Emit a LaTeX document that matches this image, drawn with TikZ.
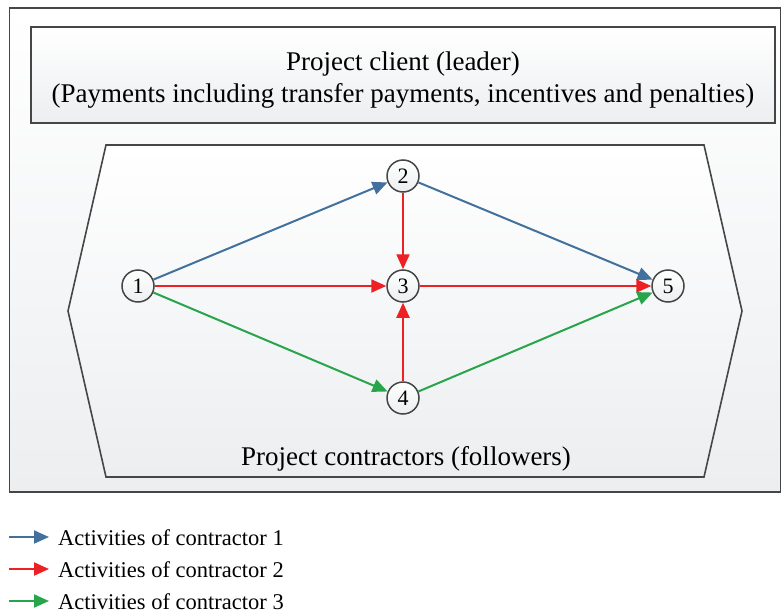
\documentclass[tikz,border=0pt]{standalone}
\usepackage{fontspec}
\setmainfont{Liberation Serif}
\usetikzlibrary{arrows.meta,shadings}
\definecolor{cblue}{RGB}{65,113,156}
\definecolor{cred}{RGB}{237,32,36}
\definecolor{cgreen}{RGB}{40,165,75}
\definecolor{frame}{RGB}{70,70,70}
\definecolor{shadebot}{RGB}{236,238,240}
\tikzset{
  x=1pt,y=1pt,
  frameline/.style={draw=frame,line width=1.6pt},
  evnode/.style={circle,minimum size=32pt,inner sep=0pt,draw=frame,line width=1.5pt,
    top color=white,bottom color=shadebot,font=\fontsize{22}{22}\selectfont},
  act/.style={line width=2pt,-{Triangle[length=15pt,width=13pt]}},
  big/.style={font=\fontsize{27}{31.5}\selectfont},
  leg/.style={font=\fontsize{22.5}{24}\selectfont,anchor=base west,inner sep=0pt},
}
\begin{document}
\begin{tikzpicture}
\useasboundingbox (0,0) rectangle (782,-613);
% outer box
\shade[top color=white,bottom color=shadebot] (9.5,-8) rectangle (780.5,-492);
\draw[frameline] (9.5,-8) rectangle (780.5,-492);
% top box
\shade[top color=white,bottom color=shadebot] (31,-27) rectangle (775,-123);
\draw[frameline] (31,-27) rectangle (775,-123);
\node[big,align=center] (client) at (403,-80) {Project client (leader)\\(Payments including transfer payments, incentives and penalties)};
% hexagon
\shade[top color=white,bottom color=shadebot] (106,-145) -- (704,-145) -- (742,-311) -- (704,-477) -- (106,-477) -- (68,-311) -- cycle;
\draw[frameline] (106,-145) -- (704,-145) -- (742,-311) -- (704,-477) -- (106,-477) -- (68,-311) -- cycle;
\node[big,anchor=base,inner sep=0pt] (contr) at (406,-465) {Project contractors (followers)};
% nodes
\node[evnode] (n1) at (138,-286) {1};
\node[evnode] (n2) at (403,-176) {2};
\node[evnode] (n3) at (403,-286) {3};
\node[evnode] (n4) at (403,-398) {4};
\node[evnode] (n5) at (668,-286) {5};
% arrows
\draw[act,cblue] (n1) -- (n2);
\draw[act,cblue] (n2) -- (n5);
\draw[act,cred] (n1) -- (n3);
\draw[act,cred] (n2) -- (n3);
\draw[act,cred] (n4) -- (n3);
\draw[act,cred] (n3) -- (n5);
\draw[act,cgreen] (n1) -- (n4);
\draw[act,cgreen] (n4) -- (n5);
% legend
\coordinate (a1s) at (9,-537); \coordinate (a1e) at (49,-537);
\coordinate (a2s) at (9,-569); \coordinate (a2e) at (49,-569);
\coordinate (a3s) at (9,-601); \coordinate (a3e) at (49,-601);
\draw[act,cblue] (a1s) -- (a1e);
\draw[act,cred] (a2s) -- (a2e);
\draw[act,cgreen] (a3s) -- (a3e);
\node[leg] (t1) at (58,-545) {Activities of contractor 1};
\node[leg] (t2) at (58,-577) {Activities of contractor 2};
\node[leg] (t3) at (58,-609) {Activities of contractor 3};
\end{tikzpicture}
\end{document}
